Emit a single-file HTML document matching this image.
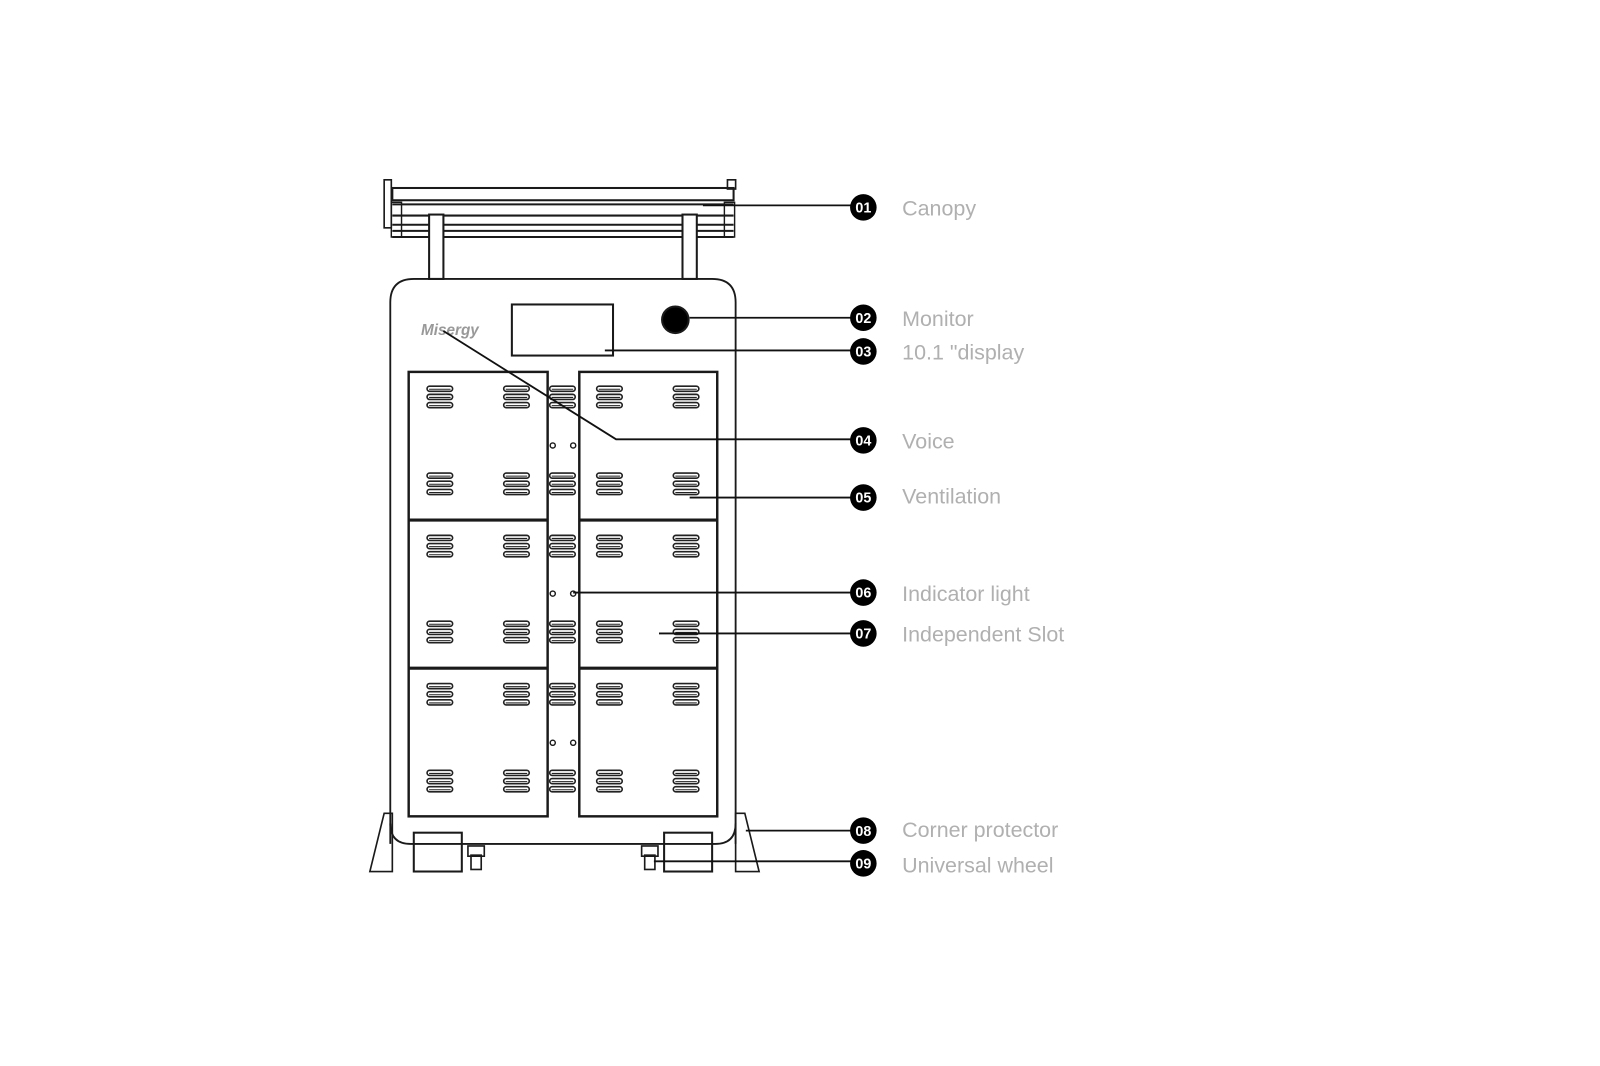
<!DOCTYPE html>
<html><head><meta charset="utf-8"><style>
html,body{margin:0;padding:0;background:#fff;width:1600px;height:1066px;overflow:hidden}
svg{display:block}
.lbl{font-family:"Liberation Sans",sans-serif;font-size:21px;fill:#b0b0b0}
.num{font-family:"Liberation Sans",sans-serif;font-size:14px;font-weight:bold;fill:#fff}
</style></head><body>
<svg width="1600" height="1066" viewBox="0 0 1600 1066" xmlns="http://www.w3.org/2000/svg">
<defs>
<g id="v1"><rect x="0" y="0" width="25" height="5" rx="2.5" fill="none" stroke="#222" stroke-width="1.6"/><line x1="2" y1="3" x2="23" y2="3" stroke="#222" stroke-width="1"/></g>
<g id="v3"><use href="#v1" y="0"/><use href="#v1" y="8"/><use href="#v1" y="16"/></g>
<g id="row"><use href="#v3" x="418"/><use href="#v3" x="493"/><use href="#v3" x="538"/><use href="#v3" x="584"/><use href="#v3" x="659"/></g>
</defs>
<g transform="scale(1.0217)">
<g fill="none" stroke="#1a1a1a" stroke-width="2">
<rect x="376" y="176" width="7" height="47" stroke-width="1.6"/>
<rect x="712" y="176" width="8" height="9" stroke-width="1.6"/>
<rect x="384" y="184" width="334" height="12"/>
<line x1="384" y1="200" x2="718" y2="200"/>
<line x1="384" y1="211" x2="718" y2="211"/>
<line x1="384" y1="220" x2="718" y2="220"/>
<line x1="384" y1="226" x2="718" y2="226"/>
<line x1="384" y1="232" x2="718" y2="232"/>
<rect x="383" y="198" width="10" height="34" stroke-width="1.4"/>
<rect x="709" y="198" width="10" height="34" stroke-width="1.4"/>
<rect x="420" y="210" width="14" height="63" fill="#fff"/>
<rect x="668" y="210" width="14" height="63" fill="#fff"/>
<path d="M382 826 V296 Q382 273 405 273 H697 Q720 273 720 296 V826" stroke-width="1.8"/>
<path d="M382 806 Q382 826 402 826 H700 Q720 826 720 806" stroke-width="1.8"/>
<rect x="501" y="298" width="99" height="50"/>
<circle cx="661" cy="313" r="13" fill="#000"/>
<rect x="400" y="364" width="136" height="435" stroke-width="2.4"/>
<rect x="567" y="364" width="135" height="435" stroke-width="2.4"/>
<line x1="400" y1="509" x2="536" y2="509" stroke-width="3"/>
<line x1="567" y1="509" x2="702" y2="509" stroke-width="3"/>
<line x1="400" y1="654" x2="536" y2="654" stroke-width="3"/>
<line x1="567" y1="654" x2="702" y2="654" stroke-width="3"/>
<g stroke-width="1.4">
<circle cx="541" cy="436" r="2.5"/><circle cx="561" cy="436" r="2.5"/>
<circle cx="541" cy="581" r="2.5"/><circle cx="561" cy="581" r="2.5"/>
<circle cx="541" cy="727" r="2.5"/><circle cx="561" cy="727" r="2.5"/>
</g>
<path d="M362 853 L376 796 H384 V853 Z" stroke-width="1.6"/>
<path d="M743 853 L729 796 H720 V853 Z" stroke-width="1.6"/>
<rect x="405" y="815" width="47" height="38"/>
<rect x="650" y="815" width="47" height="38"/>
<rect x="458" y="828" width="16" height="10" stroke-width="1.6"/>
<rect x="461" y="837" width="10" height="14" stroke-width="1.6"/>
<rect x="628" y="828" width="16" height="10" stroke-width="1.6"/>
<rect x="631" y="837" width="10" height="14" stroke-width="1.6"/>
</g>
<g>
<use href="#row" y="378"/><use href="#row" y="463"/>
<use href="#row" y="524"/><use href="#row" y="608"/>
<use href="#row" y="669"/><use href="#row" y="754"/>
</g>
<text x="412" y="328" font-family="Liberation Sans,sans-serif" font-size="15" font-weight="bold" font-style="italic" fill="#999">Misergy</text>
<g stroke="#111" stroke-width="1.8" fill="none">
<line x1="688" y1="201" x2="833" y2="201"/>
<line x1="675" y1="311" x2="833" y2="311"/>
<line x1="592" y1="343" x2="833" y2="343"/>
<polyline points="434,324 603,430 833,430"/>
<line x1="675" y1="487" x2="833" y2="487"/>
<line x1="561" y1="580" x2="833" y2="580"/>
<line x1="645" y1="620" x2="833" y2="620"/>
<line x1="730" y1="813" x2="833" y2="813"/>
<line x1="640" y1="843" x2="833" y2="843"/>
</g>
<g>
<circle cx="845" cy="203" r="13"/><text class="num" x="845" y="208" text-anchor="middle">01</text>
<circle cx="845" cy="311" r="13"/><text class="num" x="845" y="316" text-anchor="middle">02</text>
<circle cx="845" cy="344" r="13"/><text class="num" x="845" y="349" text-anchor="middle">03</text>
<circle cx="845" cy="431" r="13"/><text class="num" x="845" y="436" text-anchor="middle">04</text>
<circle cx="845" cy="487" r="13"/><text class="num" x="845" y="492" text-anchor="middle">05</text>
<circle cx="845" cy="580" r="13"/><text class="num" x="845" y="585" text-anchor="middle">06</text>
<circle cx="845" cy="620" r="13"/><text class="num" x="845" y="625" text-anchor="middle">07</text>
<circle cx="845" cy="813" r="13"/><text class="num" x="845" y="818" text-anchor="middle">08</text>
<circle cx="845" cy="845" r="13"/><text class="num" x="845" y="850" text-anchor="middle">09</text>
</g>
<text class="lbl" x="883" y="211">Canopy</text>
<text class="lbl" x="883" y="319">Monitor</text>
<text class="lbl" x="883" y="352">10.1 "display</text>
<text class="lbl" x="883" y="439">Voice</text>
<text class="lbl" x="883" y="493">Ventilation</text>
<text class="lbl" x="883" y="588">Indicator light</text>
<text class="lbl" x="883" y="628">Independent Slot</text>
<text class="lbl" x="883" y="819">Corner protector</text>
<text class="lbl" x="883" y="854">Universal wheel</text>
</g>
</svg>
</body></html>
